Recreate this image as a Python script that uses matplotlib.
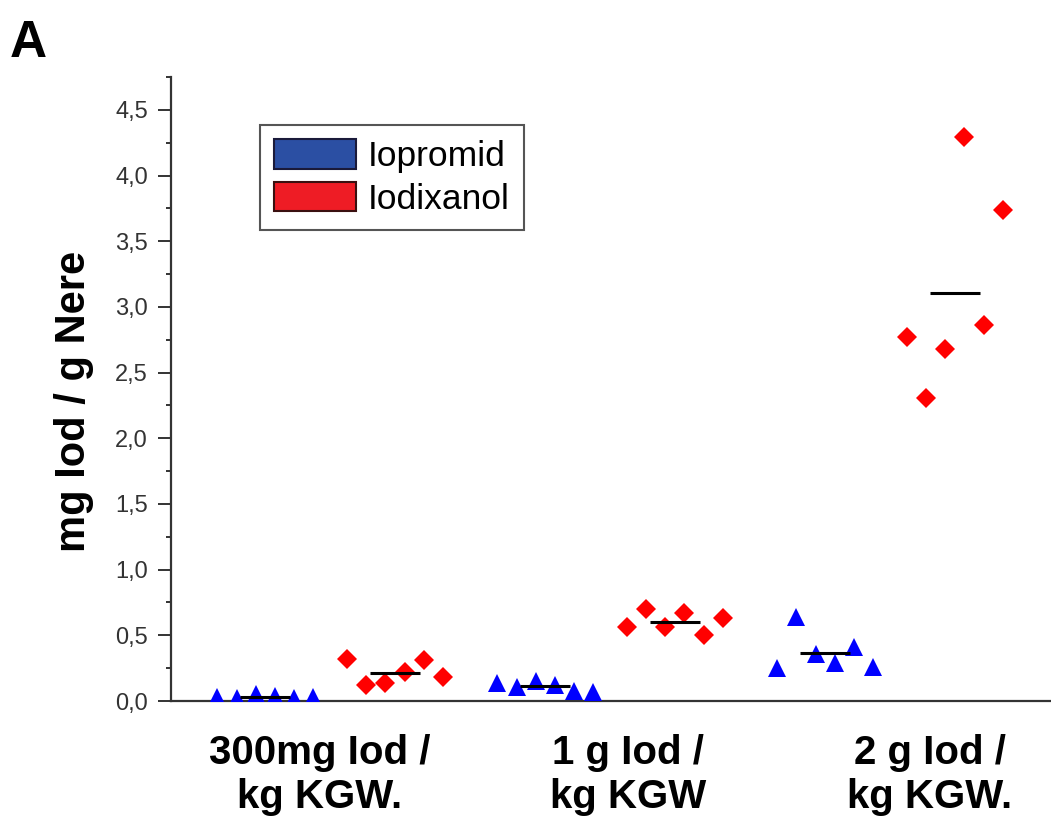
import matplotlib
matplotlib.use("Agg")
import matplotlib.pyplot as plt
import numpy as np
from matplotlib.patches import Patch
from matplotlib.ticker import MultipleLocator, FuncFormatter

plt.rcParams["font.family"] = ["Liberation Sans", "DejaVu Sans"]

# data (mg Iod / g Nere)
groups = ["300mg Iod /\nkg KGW.", "1 g Iod /\nkg KGW", "2 g Iod /\nkg KGW."]
iopromid = [
    [0.03, 0.02, 0.05, 0.04, 0.02, 0.03],
    [0.14, 0.11, 0.15, 0.12, 0.08, 0.07],
    [0.25, 0.64, 0.36, 0.29, 0.41, 0.26],
]
iodixanol = [
    [0.32, 0.12, 0.14, 0.22, 0.31, 0.18],
    [0.56, 0.70, 0.56, 0.67, 0.50, 0.63],
    [2.77, 2.31, 2.68, 4.29, 2.86, 3.74],
]
series_names = ["Iopromid", "Iodixanol"]

# layout
centers = np.array([1.0, 2.0, 3.0])
series_shift = 0.232
point_step = 0.068
mean_half = 0.088
label_pos = [0.964, 2.064, 3.143]

fig = plt.figure(figsize=(10.51, 8.26), dpi=100)
ax = fig.add_axes([0.1627, 0.1513, 0.8373, 0.7555])

offsets = (np.arange(6) - 2.5) * point_step
for i, c in enumerate(centers):
    xb = c - series_shift + offsets
    xr = c + series_shift + offsets
    ax.plot(xb, iopromid[i], linestyle="none", marker="^", ms=13.5,
            color="#0000ff", mew=0, zorder=3)
    ax.plot(xr, iodixanol[i], linestyle="none", marker="D", ms=10.5,
            color="#ff0000", mew=0, zorder=3)
    for xc, vals in ((c - series_shift, iopromid[i]), (c + series_shift, iodixanol[i])):
        m = np.mean(vals)
        ax.plot([xc - mean_half, xc + mean_half], [m, m], color="black",
                lw=2.2, zorder=4, solid_capstyle="butt")

ax.set_xlim(0.432, 3.575)
ax.set_ylim(0, 4.75)

ax.spines["top"].set_visible(False)
ax.spines["right"].set_visible(False)
for s in ("left", "bottom"):
    ax.spines[s].set_linewidth(1.6)
    ax.spines[s].set_color("#333333")

ax.yaxis.set_major_locator(MultipleLocator(0.5))
ax.yaxis.set_minor_locator(MultipleLocator(0.25))
ax.yaxis.set_major_formatter(FuncFormatter(lambda v, p: f"{v:.1f}".replace(".", ",")))
ax.tick_params(axis="y", which="major", length=9.5, width=1.4, pad=7,
               labelsize=17, color="#333333", labelcolor="#333333")
ax.tick_params(axis="y", which="minor", length=3.6, width=1.4, color="#333333")

ax.set_xticks(label_pos)
ax.set_xticklabels(groups, fontsize=29, fontweight="bold", linespacing=1.2)
ax.tick_params(axis="x", length=0, pad=24)

ax.set_ylabel("mg Iod / g Nere", fontsize=30, fontweight="bold")
ax.yaxis.set_label_coords(-0.088, 0.48)

handles = [
    Patch(facecolor="#2b4fa3", edgecolor="#1a1a3a", lw=1.5),
    Patch(facecolor="#ee1c25", edgecolor="#3a1010", lw=1.5),
]
leg = ax.legend(handles, series_names, loc="upper left",
                bbox_to_anchor=(0.101, 0.923), borderaxespad=0,
                fontsize=25.5, fancybox=False, handlelength=2.3,
                handleheight=0.9, handletextpad=0.35, labelspacing=0.25,
                borderpad=0.4, framealpha=1)
leg.get_frame().set_edgecolor("#555555")
leg.get_frame().set_linewidth(1.5)

fig.text(0.009, 0.931, "A", fontsize=37, fontweight="bold")

fig.savefig("out.png", dpi=100)
